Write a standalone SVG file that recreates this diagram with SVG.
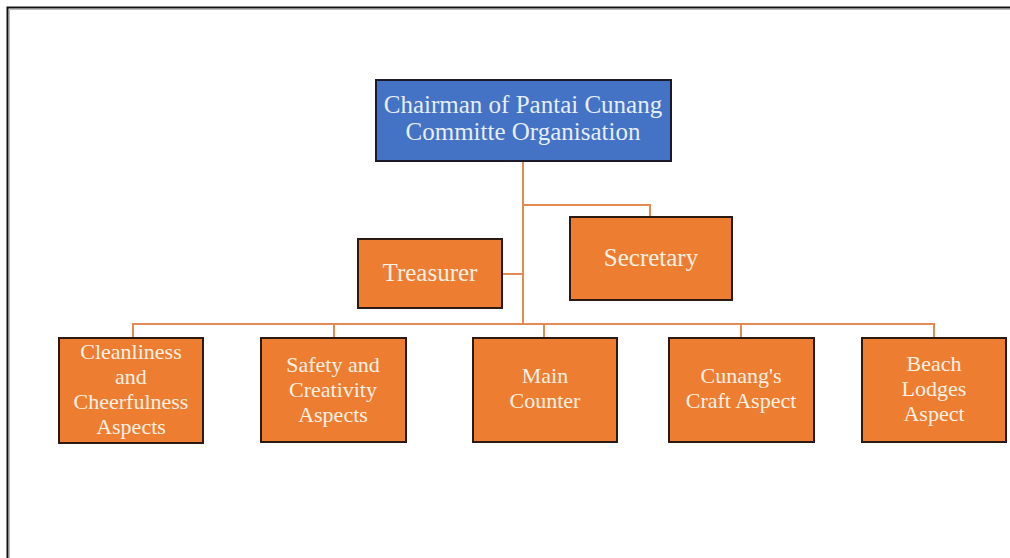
<svg xmlns="http://www.w3.org/2000/svg" width="1010" height="558" viewBox="0 0 1010 558">
<style>
.box{fill:#ED7D31;stroke:#2a1a12;stroke-width:2}
.top{fill:#4472C4;stroke:#1a1a2a;stroke-width:2}
.t{font-family:"Liberation Serif","Times New Roman",serif;font-size:22px;fill:#FFF1E3;text-anchor:middle}
.tb{fill:#E6EEFA;font-size:25px}
.m{font-size:25px}
.c{fill:none;stroke:#E38A55;stroke-width:2}
</style>
<rect width="1010" height="558" fill="#ffffff"/>
<g id="frame">
<path d="M7.5 558 V7.5 H1010" fill="none" stroke="#111" stroke-width="2"/>
<path d="M9.5 558 V9.5 H1010" fill="none" stroke="#bbb" stroke-width="1"/>
</g>
<g id="connectors">
<path class="c" d="M523 161 V324"/>
<path class="c" d="M523 205 H650 V217"/>
<path class="c" d="M502 274 H523"/>
<path class="c" d="M133 338 V324 H934 V338"/>
<path class="c" d="M334 324 V338"/>
<path class="c" d="M544 324 V338"/>
<path class="c" d="M741 324 V338"/>
</g>
<g id="chairman">
<rect class="top" x="376" y="80" width="295" height="81"/>
<text class="t tb" x="523" y="113">Chairman of Pantai Cunang</text>
<text class="t tb" x="523" y="140">Committe Organisation</text>
</g>
<g id="secretary">
<rect class="box" x="570" y="217" width="162" height="83"/>
<text class="t m" x="651" y="266">Secretary</text>
</g>
<g id="treasurer">
<rect class="box" x="358" y="239" width="144" height="69"/>
<text class="t m" x="430" y="281">Treasurer</text>
</g>
<g id="cleanliness">
<rect class="box" x="59" y="338" width="144" height="105"/>
<text class="t" x="131" y="359">Cleanliness</text>
<text class="t" x="131" y="384">and</text>
<text class="t" x="131" y="409">Cheerfulness</text>
<text class="t" x="131" y="434">Aspects</text>
</g>
<g id="safety">
<rect class="box" x="261" y="338" width="145" height="104"/>
<text class="t" x="333" y="372">Safety and</text>
<text class="t" x="333" y="397">Creativity</text>
<text class="t" x="333" y="422">Aspects</text>
</g>
<g id="maincounter">
<rect class="box" x="473" y="338" width="144" height="104"/>
<text class="t" x="545" y="383">Main</text>
<text class="t" x="545" y="408">Counter</text>
</g>
<g id="craft">
<rect class="box" x="669" y="338" width="145" height="104"/>
<text class="t" x="741" y="383">Cunang's</text>
<text class="t" x="741" y="408">Craft Aspect</text>
</g>
<g id="beach">
<rect class="box" x="862" y="338" width="144" height="104"/>
<text class="t" x="934" y="371">Beach</text>
<text class="t" x="934" y="396">Lodges</text>
<text class="t" x="934" y="421">Aspect</text>
</g>
</svg>
